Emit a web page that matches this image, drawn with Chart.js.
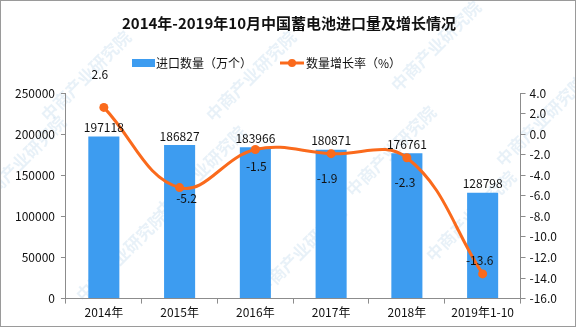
<!DOCTYPE html>
<html>
<head>
<meta charset="utf-8">
<script src="https://cdn.jsdelivr.net/npm/chart.js@4.4.1/dist/chart.umd.min.js"></script>
<style>
  html, body { margin: 0; padding: 0; background: #fff; }
  #wrap { width: 574px; height: 325px; border: 1px solid #9a9a9a; position: relative; }
</style>
</head>
<body>
<div id="wrap"><canvas id="c" width="574" height="325"></canvas></div>
<script>
// 进口数量（万个）与数量增长率（%）
var years = ['2014年', '2015年', '2016年', '2017年', '2018年', '2019年1-10'];
var imports = [197118, 186827, 183966, 180871, 176761, 128798];
var growth = [2.6, -5.2, -1.5, -1.9, -2.3, -13.6];
var leftTicks = [0, 50000, 100000, 150000, 200000, 250000];
var rightTicks = [-16, -14, -12, -10, -8, -6, -4, -2, 0, 2, 4];

var BLUE = '#3d9cf0';
var ORANGE = '#fa6a1c';
var FONT = '"Noto Sans CJK SC", sans-serif';

// where each growth label sits relative to its point
var rateLabelShift = [[-4, -33], [7, 11], [1, 17], [-4, 25], [-2, 25], [-3, -13]];

var watermark = {
  id: 'watermark',
  beforeDraw: function (chart) {
    var ctx = chart.ctx;
    ctx.save();
    ctx.fillStyle = 'rgba(130,175,215,0.18)';
    ctx.font = 'bold 17px ' + FONT;
    ctx.textAlign = 'center';
    ctx.textBaseline = 'middle';
    var spots = [[85, 75], [250, 75], [435, 45], [120, 255], [300, 250], [470, 215], [20, 160], [540, 120], [200, 170], [390, 150]];
    spots.forEach(function (p) {
      ctx.save();
      ctx.translate(p[0], p[1]);
      ctx.rotate(-Math.PI / 4);
      ctx.fillText('中商产业研究院', 0, 0);
      ctx.restore();
    });
    ctx.restore();
  }
};

var titleAndLegend = {
  id: 'titleAndLegend',
  afterDraw: function (chart) {
    var ctx = chart.ctx;
    ctx.save();
    ctx.fillStyle = '#111';
    ctx.textBaseline = 'middle';
    ctx.textAlign = 'center';
    ctx.font = 'bold 15px ' + FONT;
    ctx.fillText('2014年-2019年10月中国蓄电池进口量及增长情况', 288, 22);

    ctx.font = '12px ' + FONT;
    ctx.textAlign = 'left';
    ctx.fillStyle = BLUE;
    ctx.fillRect(131, 58, 23, 8);
    ctx.fillStyle = '#111';
    ctx.fillText('进口数量（万个）', 155, 62);

    ctx.strokeStyle = ORANGE;
    ctx.lineWidth = 3;
    ctx.beginPath();
    ctx.moveTo(279, 62);
    ctx.lineTo(303, 62);
    ctx.stroke();
    ctx.fillStyle = ORANGE;
    ctx.beginPath();
    ctx.arc(291, 62, 4, 0, Math.PI * 2);
    ctx.fill();
    ctx.fillStyle = '#111';
    ctx.fillText('数量增长率（%）', 305, 62);
    ctx.restore();
  }
};

var valueLabels = {
  id: 'valueLabels',
  afterDatasetsDraw: function (chart) {
    var ctx = chart.ctx;
    ctx.save();
    ctx.font = '12px ' + FONT;
    ctx.fillStyle = '#111';
    ctx.textAlign = 'center';
    ctx.textBaseline = 'middle';
    chart.getDatasetMeta(1).data.forEach(function (bar, i) {
      ctx.fillText(String(imports[i]), bar.x, bar.y - 9);
    });
    chart.getDatasetMeta(0).data.forEach(function (pt, i) {
      var s = rateLabelShift[i];
      ctx.fillText(growth[i].toFixed(1), pt.x + s[0], pt.y + s[1]);
    });
    ctx.restore();
  }
};

var axisColor = '#8c8c8c';

new Chart(document.getElementById('c'), {
  data: {
    labels: years,
    datasets: [
      {
        type: 'line',
        label: '数量增长率（%）',
        data: growth,
        yAxisID: 'y1',
        borderColor: ORANGE,
        backgroundColor: ORANGE,
        borderWidth: 3,
        pointRadius: 4.5,
        pointBackgroundColor: ORANGE,
        pointBorderWidth: 0,
        tension: 0.4,
        order: 0
      },
      {
        type: 'bar',
        label: '进口数量（万个）',
        data: imports,
        yAxisID: 'y',
        backgroundColor: BLUE,
        barPercentage: 0.41,
        categoryPercentage: 1,
        order: 1
      }
    ]
  },
  options: {
    responsive: false,
    animation: false,
    layout: { padding: { top: 92, left: 8, right: 14, bottom: 4 } },
    plugins: {
      legend: { display: false },
      title: { display: false },
      tooltip: { enabled: false }
    },
    scales: {
      x: {
        offset: true,
        grid: { display: true, drawOnChartArea: false, offset: true, color: axisColor, tickLength: 5 },
        border: { color: axisColor },
        ticks: { color: '#111', font: { family: FONT, size: 12 }, padding: 2, maxRotation: 0 }
      },
      y: {
        position: 'left',
        min: 0,
        max: 250000,
        afterBuildTicks: function (axis) { axis.ticks = leftTicks.map(function (v) { return { value: v }; }); },
        grid: { drawOnChartArea: false, color: axisColor, tickLength: 5 },
        border: { color: axisColor },
        ticks: {
          color: '#111',
          font: { family: FONT, size: 12 },
          padding: 6,
          callback: function (v) { return String(v); }
        }
      },
      y1: {
        position: 'right',
        min: -16,
        max: 4,
        afterBuildTicks: function (axis) { axis.ticks = rightTicks.map(function (v) { return { value: v }; }); },
        grid: { drawOnChartArea: false, color: axisColor, tickLength: 5 },
        border: { color: axisColor },
        ticks: {
          color: '#111',
          font: { family: FONT, size: 12 },
          padding: 4,
          callback: function (v) { return Number(v).toFixed(1); }
        }
      }
    }
  },
  plugins: [watermark, valueLabels, titleAndLegend]
});
</script>
</body>
</html>
